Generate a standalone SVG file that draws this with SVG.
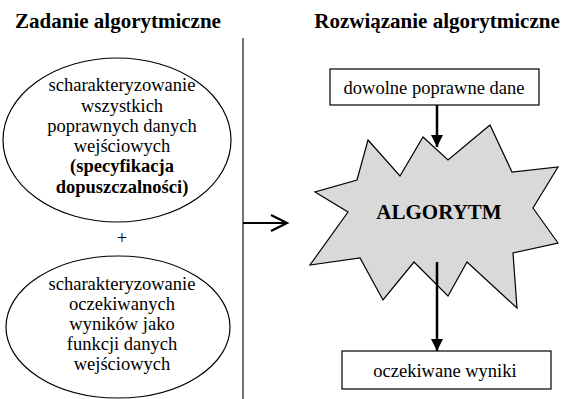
<svg xmlns="http://www.w3.org/2000/svg" width="562" height="399" viewBox="0 0 562 399">
<defs>
<style>
text{font-family:'Liberation Serif',serif;fill:#000;text-anchor:middle}
.t{font-size:18.5px}
.b{font-weight:bold}
.h{font-size:21px;font-weight:bold}
.s{fill:#fff;stroke:#000;stroke-width:1.2}
.c{stroke:#000;stroke-width:2.5;fill:none}
</style>
<marker id="ah" markerWidth="12" markerHeight="14" refX="13" refY="6.5" viewBox="0 0 13 13" markerUnits="userSpaceOnUse" orient="auto">
<path d="M0,0 L13,6.5 L0,13 Z" fill="#000"/>
</marker>
</defs>
<rect width="562" height="399" fill="#fff"/>
<text class="h" x="118" y="28" font-family="Liberation Serif, serif">Zadanie algorytmiczne</text>
<text class="h" x="437" y="28" font-family="Liberation Serif, serif">Rozwiązanie algorytmiczne</text>
<g id="spec" font-family="Liberation Serif, serif">
<ellipse class="s" cx="117" cy="140" rx="114" ry="82"/>
<text class="t" x="122" y="91">scharakteryzowanie</text>
<text class="t" x="122" y="112">wszystkich</text>
<text class="t" x="122" y="132">poprawnych danych</text>
<text class="t" x="122" y="152">wejściowych</text>
<text class="t b" x="122" y="172">(specyfikacja</text>
<text class="t b" x="122" y="193">dopuszczalności)</text>
</g>
<text class="t" x="122" y="244" font-family="Liberation Serif, serif">+</text>
<g id="wyniki-spec" font-family="Liberation Serif, serif">
<ellipse class="s" cx="118" cy="327" rx="112" ry="71"/>
<text class="t" x="122" y="290">scharakteryzowanie</text>
<text class="t" x="122" y="310">oczekiwanych</text>
<text class="t" x="122" y="330">wyników jako</text>
<text class="t" x="122" y="350">funkcji danych</text>
<text class="t" x="122" y="370">wejściowych</text>
</g>
<line x1="243" y1="38" x2="243" y2="399" stroke="#444" stroke-width="1.5"/>
<g id="dane" font-family="Liberation Serif, serif">
<rect class="s" x="330" y="69" width="209" height="36"/>
<text class="t" x="434" y="94">dowolne poprawne dane</text>
</g>
<g id="algorytm" font-family="Liberation Serif, serif">
<polygon points="368,140 400,176 423,137 448,160 490,125 512,172 558,167 533,208 558,243 513,253 517,308 467,262 448,296 414,262 383,300 360,258 310,265 348,212 315,192 357,180" fill="#d9d9d9" stroke="#000" stroke-width="1.2"/>
<text class="h" x="439" y="219">ALGORYTM</text>
</g>
<g id="oczekiwane" font-family="Liberation Serif, serif">
<rect class="s" x="342" y="351" width="209" height="38"/>
<text class="t" x="445" y="377">oczekiwane wyniki</text>
</g>
<g id="connectors">
<line class="c" x1="437" y1="105" x2="437" y2="147" marker-end="url(#ah)"/>
<line class="c" x1="437" y1="262" x2="437" y2="351" marker-end="url(#ah)"/>
<line x1="243" y1="223" x2="286" y2="223" stroke="#000" stroke-width="2"/>
<polyline points="271,215 287,223 271,231" fill="none" stroke="#000" stroke-width="2.2"/>
</g>
</svg>
